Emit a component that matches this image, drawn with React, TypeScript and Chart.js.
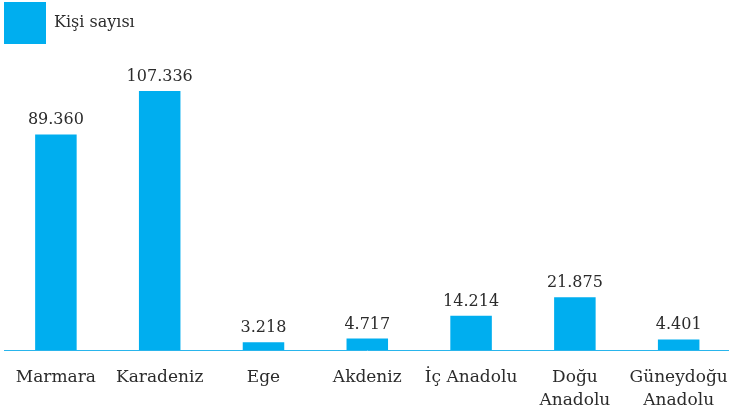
import React, { useEffect, useRef } from "react";
import { Chart, registerables } from "chart.js";

Chart.register(...registerables);

const categories: (string | string[])[] = [
  "Marmara",
  "Karadeniz",
  "Ege",
  "Akdeniz",
  "İç Anadolu",
  ["Doğu", "Anadolu"],
  ["Güneydoğu", "Anadolu"],
];
const seriesLabel = "Kişi sayısı";
const values = [89360, 107336, 3218, 4717, 14214, 21875, 4401];

const BAR = "#00AEEF";
const AXIS = "#29B5EC";
const TEXT = "#2b2b2b";
const FONT = "'DejaVu Serif', serif";

function fmt(n: number): string {
  return String(n).replace(/\B(?=(\d{3})+(?!\d))/g, ".");
}

const valueLabels = {
  id: "valueLabels",
  afterDatasetsDraw(chart: any) {
    const ctx = chart.ctx;
    const meta = chart.getDatasetMeta(0);
    ctx.save();
    ctx.font = `16px ${FONT}`;
    ctx.fillStyle = TEXT;
    ctx.textAlign = "center";
    ctx.textBaseline = "alphabetic";
    meta.data.forEach((el: any, i: number) => {
      ctx.fillText(fmt(chart.data.datasets[0].data[i]), el.x, el.y - 10);
    });
    ctx.restore();
  },
};

export default function App() {
  const ref = useRef<HTMLCanvasElement>(null);
  useEffect(() => {
    document.body.style.margin = "0";
    const chart = new Chart(ref.current!, {
      type: "bar",
      data: {
        labels: categories,
        datasets: [
          {
            label: seriesLabel,
            data: values,
            backgroundColor: BAR,
            borderWidth: 0,
            barPercentage: 0.8,
            categoryPercentage: 0.5,
          },
        ],
      },
      options: {
        responsive: false,
        animation: false,
        layout: { padding: { left: 4, right: 4, top: 2, bottom: 0 } },
        plugins: {
          legend: {
            display: true,
            position: "top",
            align: "start",
            labels: {
              boxWidth: 42,
              boxHeight: 42,
              padding: 0,
              color: TEXT,
              font: { family: FONT, size: 16 },
            },
          },
          tooltip: { enabled: false },
        },
        scales: {
          x: {
            grid: { display: false },
            border: { display: true, color: AXIS, width: 1 },
            ticks: {
              color: TEXT,
              font: { family: FONT, size: 17, lineHeight: 1.3 },
              padding: 9,
              maxRotation: 0,
              autoSkip: false,
            },
            afterFit(scale: any) {
              scale.height = 60;
            },
          },
          y: {
            display: false,
            min: 0,
            max: 122700,
          },
        },
      },
      plugins: [valueLabels],
    });
    return () => chart.destroy();
  }, []);
  return (
    <div style={{ width: 729, height: 410, overflow: "hidden" }}>
      <canvas ref={ref} width={737} height={410} style={{ display: "block" }} />
    </div>
  );
}
